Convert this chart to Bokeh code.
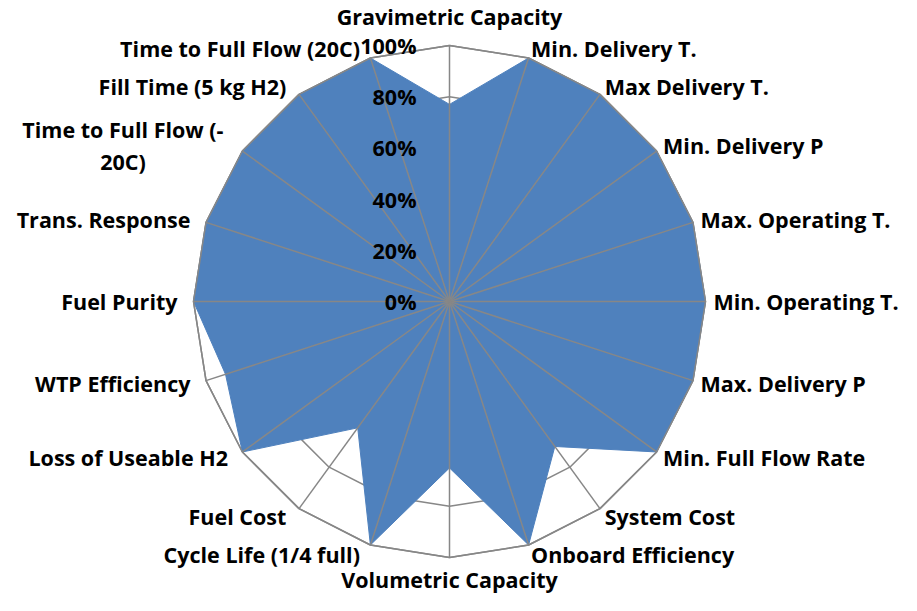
import math
from bokeh.plotting import figure
from bokeh.models import Range1d
from bokeh.core.properties import value
from bokeh.embed import file_html
from bokeh.resources import INLINE

categories = [
    "Gravimetric Capacity", "Min. Delivery T.", "Max Delivery T.", "Min. Delivery P",
    "Max. Operating T.", "Min. Operating T.", "Max. Delivery P", "Min. Full Flow Rate",
    "System Cost", "Onboard Efficiency", "Volumetric Capacity", "Cycle Life (1/4 full)",
    "Fuel Cost", "Loss of Useable H2", "WTP Efficiency", "Fuel Purity",
    "Trans. Response", "Time to Full Flow (-\n20C)", "Fill Time (5 kg H2)",
    "Time to Full Flow (20C)",
]
values = [0.77, 1.0, 1.0, 1.0, 1.0, 1.0, 1.0, 1.0, 0.70, 1.0,
          0.65, 1.0, 0.61, 1.0, 0.92, 1.0, 1.0, 1.0, 1.0, 1.0]
ring_levels = [0.2, 0.4, 0.6, 0.8, 1.0]
tick_values = [0.0, 0.2, 0.4, 0.6, 0.8, 1.0]
tick_labels = ["0%", "20%", "40%", "60%", "80%", "100%"]

# layout
W, H = 901, 595
SCALE = 256.0          # pixels per 100%
CX, CY = 449.0, 301.0  # center in canvas px
FONT = value("Open Sans")
FS = "21.5px"
GRID = "#878787"
FILL = "#4F81BD"

n = len(categories)
ang = [2 * math.pi * i / n for i in range(n)]

def pt(r, a):
    return r * math.sin(a), r * math.cos(a)

p = figure(width=W, height=H, output_backend="svg", toolbar_location=None,
           x_range=Range1d(-CX / SCALE, (W - CX) / SCALE),
           y_range=Range1d(-(H - CY) / SCALE, CY / SCALE),
           min_border=0)
p.axis.visible = False
p.grid.visible = False
p.outline_line_color = None
p.background_fill_color = "white"

# rings (below fill)
for lv in ring_levels:
    xs = [pt(lv, a)[0] for a in ang] + [pt(lv, ang[0])[0]]
    ys = [pt(lv, a)[1] for a in ang] + [pt(lv, ang[0])[1]]
    p.line(xs, ys, line_color=GRID, line_width=1.5)

# series fill
sx = [pt(v, a)[0] for v, a in zip(values, ang)]
sy = [pt(v, a)[1] for v, a in zip(values, ang)]
p.patch(sx, sy, fill_color=FILL, line_color=FILL, line_width=1)

# spokes on top
p.segment(x0=[0] * n, y0=[0] * n,
          x1=[pt(1.0, a)[0] for a in ang], y1=[pt(1.0, a)[1] for a in ang],
          line_color=GRID, line_width=1.5)
# outer ring on top
xs = [pt(1.0, a)[0] for a in ang] + [pt(1.0, ang[0])[0]]
ys = [pt(1.0, a)[1] for a in ang] + [pt(1.0, ang[0])[1]]
p.line(xs, ys, line_color=GRID, line_width=1.5)

# category labels
for i, (lab, a) in enumerate(zip(categories, ang)):
    s, c = math.sin(a), math.cos(a)
    vx, vy = pt(1.0, a)
    if abs(s) < 0.1:
        align = "center"
        dx = 0
        dy = -29 if c > 0 else 22
    elif s > 0:
        align = "left"
        dx = 8 * s
        dy = -10 * c
    else:
        align = "right"
        dx = 8 * s - 8
        dy = -10 * c
    if "\n" in lab:
        align = "center"
        dx = dx - 105
    p.text(x=[vx + dx / SCALE], y=[vy - dy / SCALE], text=[lab],
           text_font=FONT, text_font_style="bold", text_font_size=FS,
           text_align=align, text_baseline="middle", text_color="black",
           text_line_height=1.1)

# radial tick labels
p.text(x=[-33 / SCALE] * len(tick_values), y=tick_values, text=tick_labels,
       text_font=FONT, text_font_style="bold", text_font_size=FS,
       text_align="right", text_baseline="middle", text_color="black")

open("out.html", "w").write(file_html(p, INLINE))
